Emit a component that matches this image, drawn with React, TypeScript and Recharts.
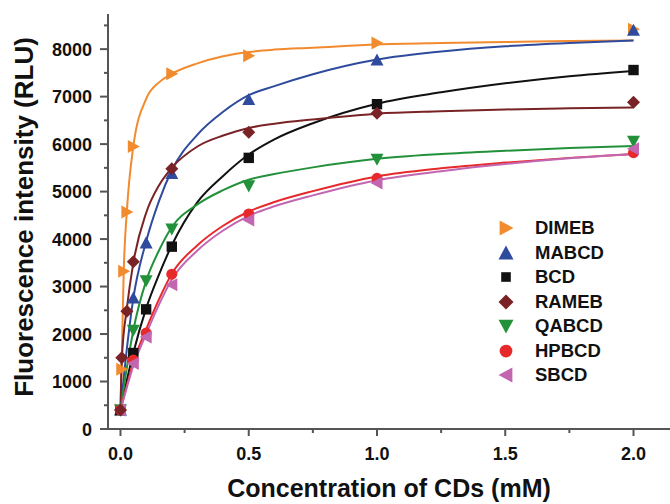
import React from 'react';
import {
  ComposedChart,
  Line,
  Scatter,
  XAxis,
  YAxis,
  Legend,
  Label,
} from 'recharts';

const FONT = '"Liberation Sans", Arial, Helvetica, sans-serif';

// measured points (concentration mM, RLU)
const dimebPts = [
  { x: 0, y: 400 }, { x: 0.005, y: 1260 }, { x: 0.0125, y: 3320 }, { x: 0.025, y: 4570 },
  { x: 0.05, y: 5950 }, { x: 0.2, y: 7480 }, { x: 0.5, y: 7860 }, { x: 1, y: 8130 }, { x: 2, y: 8420 },
];
const mabcdPts = [
  { x: 0, y: 400 }, { x: 0.05, y: 2760 }, { x: 0.1, y: 3920 }, { x: 0.2, y: 5380 },
  { x: 0.5, y: 6940 }, { x: 1, y: 7770 }, { x: 2, y: 8400 },
];
const bcdPts = [
  { x: 0, y: 400 }, { x: 0.05, y: 1600 }, { x: 0.1, y: 2520 }, { x: 0.2, y: 3840 },
  { x: 0.5, y: 5710 }, { x: 1, y: 6840 }, { x: 2, y: 7560 },
];
const ramebPts = [
  { x: 0, y: 400 }, { x: 0.005, y: 1500 }, { x: 0.025, y: 2480 }, { x: 0.05, y: 3520 },
  { x: 0.2, y: 5480 }, { x: 0.5, y: 6250 }, { x: 1, y: 6650 }, { x: 2, y: 6880 },
];
const qabcdPts = [
  { x: 0, y: 400 }, { x: 0.05, y: 2080 }, { x: 0.1, y: 3120 }, { x: 0.2, y: 4210 },
  { x: 0.5, y: 5120 }, { x: 1, y: 5680 }, { x: 2, y: 6060 },
];
const hpbcdPts = [
  { x: 0, y: 400 }, { x: 0.05, y: 1450 }, { x: 0.1, y: 2020 }, { x: 0.2, y: 3260 },
  { x: 0.5, y: 4530 }, { x: 1, y: 5280 }, { x: 2, y: 5820 },
];
const sbcdPts = [
  { x: 0, y: 400 }, { x: 0.05, y: 1380 }, { x: 0.1, y: 1940 }, { x: 0.2, y: 3040 },
  { x: 0.5, y: 4400 }, { x: 1, y: 5180 }, { x: 2, y: 5900 },
];

// fitted curves
const dimebFit = [
  { x: 0, y: 400 }, { x: 0.005, y: 1500 }, { x: 0.0125, y: 3300 }, { x: 0.025, y: 4600 },
  { x: 0.05, y: 5950 }, { x: 0.1, y: 6950 }, { x: 0.15, y: 7300 }, { x: 0.2, y: 7480 },
  { x: 0.3, y: 7700 }, { x: 0.4, y: 7850 }, { x: 0.5, y: 7940 }, { x: 0.6, y: 7990 },
  { x: 0.75, y: 8030 }, { x: 1, y: 8100 }, { x: 1.25, y: 8130 }, { x: 1.5, y: 8150 },
  { x: 1.75, y: 8170 }, { x: 2, y: 8180 },
];
const mabcdFit = [
  { x: 0, y: 400 }, { x: 0.025, y: 1700 }, { x: 0.05, y: 2750 }, { x: 0.1, y: 3950 },
  { x: 0.15, y: 4800 }, { x: 0.2, y: 5450 }, { x: 0.3, y: 6200 }, { x: 0.4, y: 6680 },
  { x: 0.5, y: 7030 }, { x: 0.6, y: 7220 }, { x: 0.75, y: 7470 }, { x: 1, y: 7780 },
  { x: 1.25, y: 7950 }, { x: 1.5, y: 8060 }, { x: 1.75, y: 8130 }, { x: 2, y: 8180 },
];
const bcdFit = [
  { x: 0, y: 400 }, { x: 0.025, y: 1030 }, { x: 0.05, y: 1600 }, { x: 0.1, y: 2540 },
  { x: 0.15, y: 3250 }, { x: 0.2, y: 3870 }, { x: 0.3, y: 4780 }, { x: 0.4, y: 5330 },
  { x: 0.5, y: 5780 }, { x: 0.6, y: 6100 }, { x: 0.75, y: 6440 }, { x: 1, y: 6850 },
  { x: 1.25, y: 7090 }, { x: 1.5, y: 7280 }, { x: 1.75, y: 7430 }, { x: 2, y: 7540 },
];
const ramebFit = [
  { x: 0, y: 400 }, { x: 0.005, y: 1450 }, { x: 0.025, y: 2550 }, { x: 0.05, y: 3500 },
  { x: 0.1, y: 4550 }, { x: 0.15, y: 5130 }, { x: 0.2, y: 5500 }, { x: 0.3, y: 5950 },
  { x: 0.4, y: 6180 }, { x: 0.5, y: 6340 }, { x: 0.6, y: 6430 }, { x: 0.75, y: 6520 },
  { x: 1, y: 6640 }, { x: 1.25, y: 6690 }, { x: 1.5, y: 6730 }, { x: 1.75, y: 6755 }, { x: 2, y: 6770 },
];
const qabcdFit = [
  { x: 0, y: 400 }, { x: 0.025, y: 1300 }, { x: 0.05, y: 2080 }, { x: 0.1, y: 3120 },
  { x: 0.15, y: 3760 }, { x: 0.2, y: 4250 }, { x: 0.3, y: 4730 }, { x: 0.4, y: 5030 },
  { x: 0.5, y: 5250 }, { x: 0.6, y: 5370 }, { x: 0.75, y: 5510 }, { x: 1, y: 5690 },
  { x: 1.25, y: 5790 }, { x: 1.5, y: 5860 }, { x: 1.75, y: 5920 }, { x: 2, y: 5960 },
];
const hpbcdFit = [
  { x: 0, y: 400 }, { x: 0.025, y: 920 }, { x: 0.05, y: 1400 }, { x: 0.1, y: 2100 },
  { x: 0.15, y: 2730 }, { x: 0.2, y: 3270 }, { x: 0.3, y: 3870 }, { x: 0.4, y: 4280 },
  { x: 0.5, y: 4580 }, { x: 0.6, y: 4780 }, { x: 0.75, y: 5010 }, { x: 1, y: 5320 },
  { x: 1.25, y: 5490 }, { x: 1.5, y: 5610 }, { x: 1.75, y: 5710 }, { x: 2, y: 5790 },
];
const sbcdFit = [
  { x: 0, y: 400 }, { x: 0.025, y: 880 }, { x: 0.05, y: 1330 }, { x: 0.1, y: 2000 },
  { x: 0.15, y: 2620 }, { x: 0.2, y: 3150 }, { x: 0.3, y: 3760 }, { x: 0.4, y: 4180 },
  { x: 0.5, y: 4490 }, { x: 0.6, y: 4690 }, { x: 0.75, y: 4920 }, { x: 1, y: 5240 },
  { x: 1.25, y: 5430 }, { x: 1.5, y: 5580 }, { x: 1.75, y: 5700 }, { x: 2, y: 5790 },
];

const xTicks = [0, 0.25, 0.5, 0.75, 1, 1.25, 1.5, 1.75, 2];
const yTicks = [0, 500, 1000, 1500, 2000, 2500, 3000, 3500, 4000, 4500, 5000, 5500, 6000, 6500, 7000, 7500, 8000, 8500];

type Shape = 'right' | 'up' | 'square' | 'diamond' | 'down' | 'circle' | 'left';

const series: { name: string; color: string; shape: Shape; pts: { x: number; y: number }[]; fit: { x: number; y: number }[] }[] = [
  { name: 'DIMEB', color: '#F28A2E', shape: 'right', pts: dimebPts, fit: dimebFit },
  { name: 'MABCD', color: '#2F4B9E', shape: 'up', pts: mabcdPts, fit: mabcdFit },
  { name: 'BCD', color: '#111111', shape: 'square', pts: bcdPts, fit: bcdFit },
  { name: 'RAMEB', color: '#7A2326', shape: 'diamond', pts: ramebPts, fit: ramebFit },
  { name: 'QABCD', color: '#22913A', shape: 'down', pts: qabcdPts, fit: qabcdFit },
  { name: 'HPBCD', color: '#E8292B', shape: 'circle', pts: hpbcdPts, fit: hpbcdFit },
  { name: 'SBCD', color: '#C266B2', shape: 'left', pts: sbcdPts, fit: sbcdFit },
];

// RAMEB sits on top at x = 0
const drawOrder = ['DIMEB', 'MABCD', 'BCD', 'QABCD', 'HPBCD', 'SBCD', 'RAMEB'];

function marker(shape: Shape, cx: number, cy: number, color: string, s: number) {
  const h = s / 2;
  switch (shape) {
    case 'right':
      return <polygon points={`${cx - h * 0.85},${cy - h} ${cx + h},${cy} ${cx - h * 0.85},${cy + h}`} fill={color} />;
    case 'left':
      return <polygon points={`${cx + h * 0.85},${cy - h} ${cx - h},${cy} ${cx + h * 0.85},${cy + h}`} fill={color} />;
    case 'up':
      return <polygon points={`${cx - h},${cy + h * 0.85} ${cx},${cy - h} ${cx + h},${cy + h * 0.85}`} fill={color} />;
    case 'down':
      return <polygon points={`${cx - h},${cy - h * 0.85} ${cx},${cy + h} ${cx + h},${cy - h * 0.85}`} fill={color} />;
    case 'square':
      return <rect x={cx - h * 0.8} y={cy - h * 0.8} width={s * 0.8} height={s * 0.8} fill={color} />;
    case 'diamond':
      return <polygon points={`${cx},${cy - h} ${cx + h},${cy} ${cx},${cy + h} ${cx - h},${cy}`} fill={color} />;
    default:
      return <circle cx={cx} cy={cy} r={h * 0.85} fill={color} />;
  }
}

const XTick = (props: any) => {
  const { x, y, payload } = props;
  const major = Math.abs(payload.value * 2 - Math.round(payload.value * 2)) < 1e-6;
  return (
    <g>
      <line x1={x} x2={x} y1={y} y2={y + (major ? 7 : 4)} stroke="#555" strokeWidth={2} />
      {major && (
        <text x={x} y={y + 31} textAnchor="middle" fontFamily={FONT} fontWeight="bold" fontSize={18} fill="#111">
          {payload.value.toFixed(1)}
        </text>
      )}
    </g>
  );
};

const YTick = (props: any) => {
  const { x, y, payload } = props;
  const major = payload.value % 1000 === 0;
  return (
    <g>
      <line x1={x} x2={x - (major ? 8 : 4)} y1={y} y2={y} stroke="#555" strokeWidth={2} />
      {major && (
        <text x={x - 16} y={y + 6.5} textAnchor="end" fontFamily={FONT} fontWeight="bold" fontSize={18} fill="#111">
          {payload.value}
        </text>
      )}
    </g>
  );
};

const renderLegend = () => (
  <div style={{ fontFamily: FONT, fontWeight: 'bold', fontSize: 18.5, color: '#111' }}>
    {series.map((s) => (
      <div key={s.name} style={{ display: 'flex', alignItems: 'center', height: 24.5 }}>
        <svg width={24} height={20} style={{ marginRight: 17 }}>
          {marker(s.shape, 12, 10, s.color, s.shape === 'square' ? 12 : 15)}
        </svg>
        <span>{s.name}</span>
      </div>
    ))}
  </div>
);

export default function App() {
  return (
    <div style={{ position: 'absolute', left: 0, top: 0, background: '#fff' }}>
      <ComposedChart width={670} height={504} margin={{ top: 14, right: 0, bottom: 0, left: 0 }}>
        <XAxis
          type="number"
          dataKey="x"
          domain={[-0.0487, 2.1423]}
          allowDataOverflow
          ticks={xTicks}
          interval={0}
          height={75}
          tick={<XTick />}
          tickLine={false}
          tickSize={0}
          tickMargin={0}
          axisLine={{ stroke: '#555', strokeWidth: 2 }}
        >
          <Label
            value="Concentration of CDs (mM)"
            position="insideBottom"
            offset={7}
            style={{ fontFamily: FONT, fontWeight: 'bold', fontSize: 25, fill: '#111' }}
          />
        </XAxis>
        <YAxis
          type="number"
          dataKey="y"
          domain={[0, 8740]}
          allowDataOverflow
          ticks={yTicks}
          interval={0}
          width={108}
          tick={<YTick />}
          tickLine={false}
          tickSize={0}
          tickMargin={0}
          axisLine={{ stroke: '#555', strokeWidth: 2 }}
        >
          <Label
            content={() => (
              <text
                x={33}
                y={217}
                transform="rotate(-90, 33, 217)"
                textAnchor="middle"
                fontFamily={FONT}
                fontWeight="bold"
                fontSize={26}
                fill="#111"
              >
                Fluorescence intensity (RLU)
              </text>
            )}
          />
        </YAxis>
        <Legend
          layout="vertical"
          align="center"
          verticalAlign="middle"
          content={renderLegend}
          wrapperStyle={{ position: 'absolute', left: 494, top: 216, width: 160 }}
        />
        {series.map((s) => (
          <Line
            key={`fit-${s.name}`}
            data={s.fit}
            dataKey="y"
            type="monotone"
            stroke={s.color}
            strokeWidth={2}
            dot={false}
            activeDot={false}
            legendType="none"
            isAnimationActive={false}
          />
        ))}
        {drawOrder.map((n) => {
          const s = series.find((q) => q.name === n)!;
          return (
            <Scatter
              key={`pts-${s.name}`}
              data={s.pts}
              dataKey="y"
              legendType="none"
              isAnimationActive={false}
              shape={(p: any) => marker(s.shape, p.cx, p.cy, s.color, 13)}
            />
          );
        })}
      </ComposedChart>
    </div>
  );
}
